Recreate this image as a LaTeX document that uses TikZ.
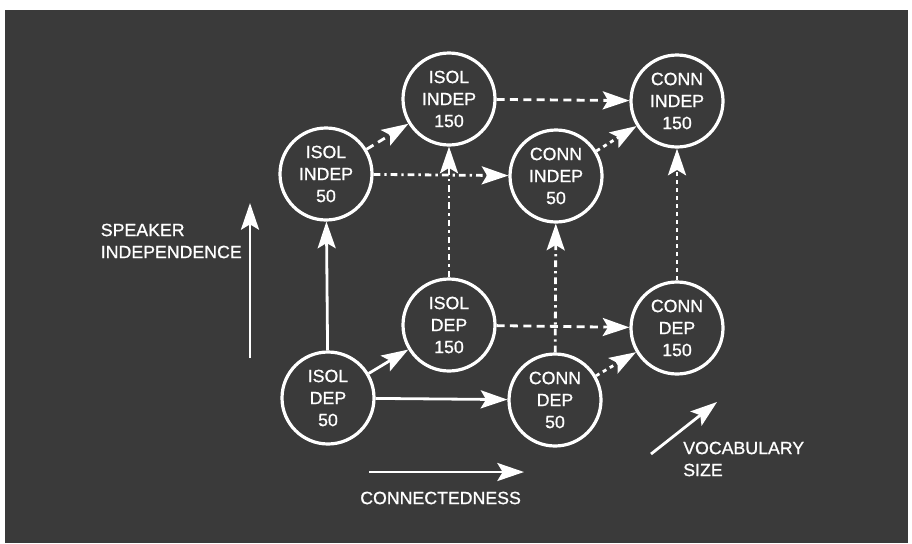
\documentclass[tikz,border=0pt]{standalone}
\usepackage{fontspec}
\setmainfont{Liberation Sans}
\newfontfamily\lblfont[FakeBold=0.8]{Liberation Sans}
\usetikzlibrary{arrows.meta}
\definecolor{bgcol}{HTML}{3A3A3A}
\begin{document}
\begin{tikzpicture}[x=0.75pt,y=-0.75pt,
  state/.style={circle,draw=white,line width=2.4pt,minimum size=69pt,inner sep=0pt,
    text=white,align=center,font=\lblfont\fontsize{13.3}{16.5}\selectfont},
  lbl/.style={text=white,align=left,font=\lblfont\fontsize{13.3}{16.5}\selectfont,inner sep=0pt},
  conn/.style={draw=white,line width=2.1pt,-{Stealth[length=20pt,width=13.5pt,inset=4pt]}},
  longdash/.style={conn,dash pattern=on 6pt off 4pt},
  dashdot/.style={conn,dash pattern=on 5pt off 3pt on 1.8pt off 3pt},
  shortdash/.style={conn,dash pattern=on 3pt off 3pt},
]
\useasboundingbox (0,0) rectangle (912,543);
\fill[white] (0,0) rectangle (912,543);
\fill[bgcol] (5,10) rectangle (908,543);

\node[state] (i50i) at (326,174) {ISOL\\INDEP\\50};
\node[state] (i150i) at (449,99) {ISOL\\INDEP\\150};
\node[state] (c50i) at (556,176) {CONN\\INDEP\\50};
\node[state] (c150i) at (677,101) {CONN\\INDEP\\150};
\node[state] (i50d) at (328,398) {ISOL\\DEP\\50};
\node[state] (i150d) at (449,325) {ISOL\\DEP\\150};
\node[state] (c50d) at (555,400) {CONN\\DEP\\50};
\node[state] (c150d) at (677,328) {CONN\\DEP\\150};

% solid
\draw[conn] (i50d) -- (i50i);
\draw[conn] (i50d) -- (i150d);
\draw[conn] (i50d) -- (c50d);
% long dashes
\draw[longdash] (i50i) -- (i150i);
\draw[longdash] (i150i) -- (c150i);
\draw[longdash] (i150d) -- (c150d);
% short dashes
\draw[shortdash] (c50d) -- (c150d);
\draw[shortdash] (c50i) -- (c150i);
% dash-dot
\draw[dashdot] (i50i) -- (c50i);
\draw[dashdot] (i150d) -- (i150i);
\draw[dashdot] (c50d) -- (c50i);
\draw[shortdash] (c150d) -- (c150i);

% axis labels
\coordinate (sA) at (250,358);
\coordinate (sB) at (250,203);
\draw[conn] (sA) -- (sB);
\node[lbl,anchor=east] (spk) at (242,241) {SPEAKER\\INDEPENDENCE};

\coordinate (cA) at (369,472);
\coordinate (cB) at (524,472);
\draw[conn] (cA) -- (cB);
\node[lbl,anchor=west] (cnd) at (360,498) {CONNECTEDNESS};

\coordinate (vA) at (651,454);
\coordinate (vB) at (717,402);
\draw[conn] (vA) -- (vB);
\node[lbl,anchor=west] (voc) at (683,459) {VOCABULARY\\SIZE};
\end{tikzpicture}
\end{document}
